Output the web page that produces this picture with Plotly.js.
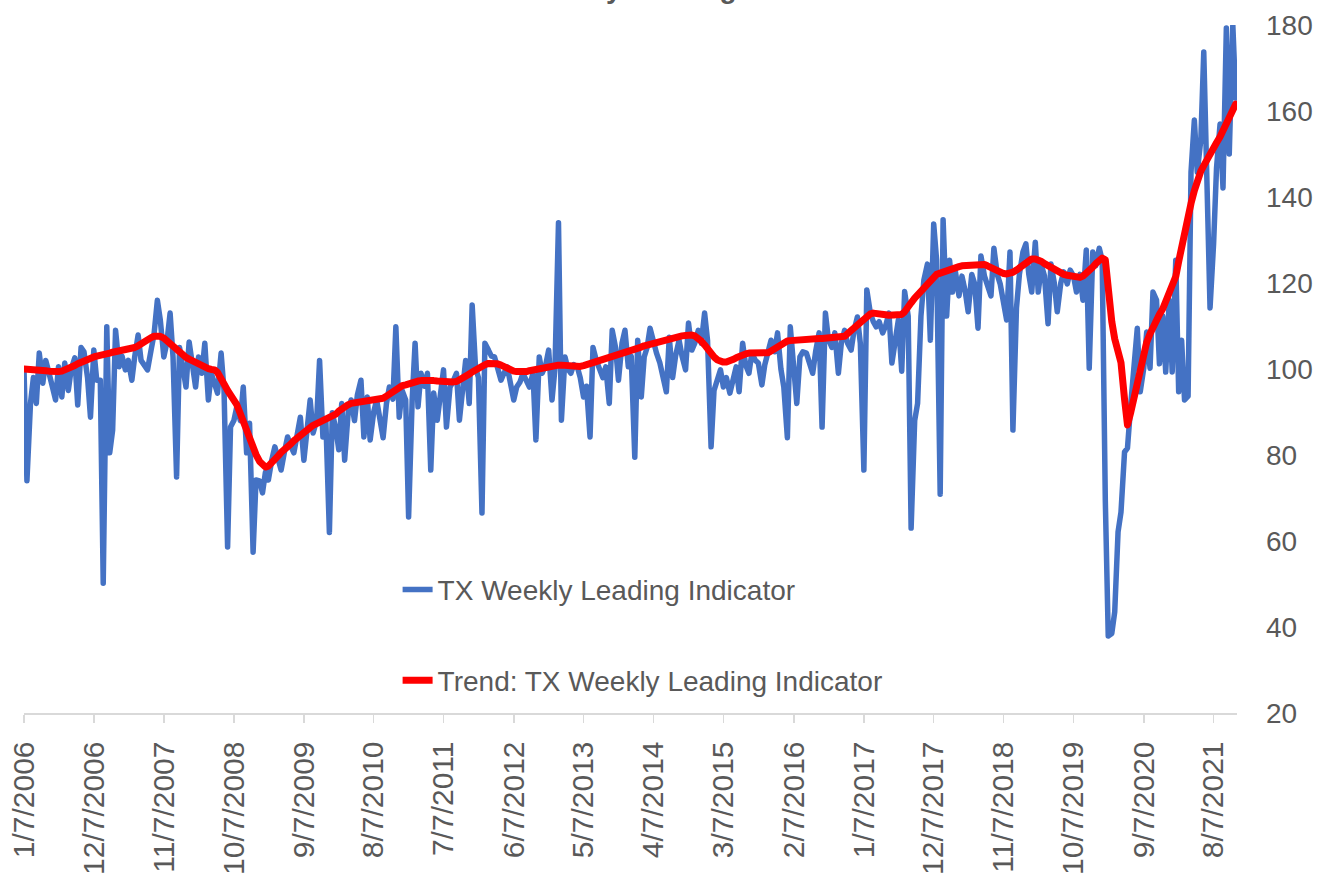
<!DOCTYPE html>
<html>
<head>
<meta charset="utf-8">
<script src="https://cdn.plot.ly/plotly-3.0.1.min.js"></script>
<style>
  html, body { margin: 0; padding: 0; background: #ffffff; }
  #chart { width: 1336px; height: 876px; }
  .scatterlayer path.js-line { stroke-linejoin: round; stroke-linecap: round; }
</style>
</head>
<body>
<div id="chart"></div>
<script>
// ---- Data (semi-monthly readings, 7th and 21st of each month) ----
const seriesNames = ['TX Weekly Leading Indicator', 'Trend: TX Weekly Leading Indicator'];

const blue2006 = [100, 74, 92, 98, 92, 103.7, 96.7, 102, 99, 95.8, 92.8, 100.5, 93.5, 101.4, 95, 100, 102.6, 91.6, 105, 104, 98, 88.8, 104.4, 97.4];
const blue2007 = [97.4, 50.2, 109.8, 80.5, 85.8, 109, 100.5, 103, 99.8, 102, 97.4, 103, 107.9, 102, 100.5, 99.8, 104.4, 108, 116, 111.4, 102.8, 106, 113, 102.8];
const blue2008 = [74.9, 105, 100, 95.8, 106.3, 101, 95.8, 102.8, 99, 106, 92.8, 99, 96, 94.4, 103.7, 95, 58.6, 86.5, 88, 91.2, 88, 95.8, 80.5, 87.4];
const blue2009 = [57.4, 74.2, 74, 71.2, 76, 74.2, 79, 81.9, 79, 76.5, 81, 84.2, 82, 80.5, 85, 88.8, 78.8, 86, 92.8, 85.1, 88, 102, 84.2, 88];
const blue2010 = [62, 89.8, 86, 81.2, 92, 78.8, 90, 92.8, 88, 94, 97.4, 84.2, 93.5, 83.5, 90, 92.8, 88, 84, 92, 95.8, 93, 109.8, 88.8, 95];
const blue2011 = [92.8, 65.6, 92.8, 106, 91.2, 99, 96, 99, 76.5, 94.4, 88.1, 95, 99.8, 86.5, 95.8, 97, 99, 88.1, 97, 102, 92, 114.9, 100.5, 98];
const blue2012 = [66.5, 106, 104.4, 103, 102.8, 100, 97.4, 99, 100.5, 97, 92.8, 95.8, 97, 99, 97, 95.8, 99, 83.5, 102.8, 99, 101, 104.4, 92.8, 100];
const blue2013 = [134, 88.1, 102.8, 100, 99, 101, 100.5, 98, 93.5, 96, 84.2, 105, 102, 100.5, 98, 100.5, 92, 109, 105, 97.4, 106, 109, 100.5, 103];
const blue2014 = [79.5, 106.7, 93.5, 102.8, 105, 109.5, 106, 103.7, 101.4, 98, 94.7, 107.4, 98, 103, 106.7, 103, 99.8, 110.7, 104.4, 106, 109, 106, 113, 106.7];
const blue2015 = [81.9, 95, 98, 99.8, 95.8, 98, 94.4, 98, 100.5, 94.7, 106, 101, 99, 103.7, 102, 101.4, 96.3, 101, 104, 106.7, 104, 108.4, 100, 95.8];
const blue2016 = [84, 109.8, 100, 92, 102.8, 104, 103.7, 101, 99, 104, 108.4, 86.5, 113, 107, 105, 108.4, 99, 106, 109, 106, 104.4, 109, 112.1, 106];
const blue2017 = [76.5, 118.4, 113, 111, 109.8, 111, 108.4, 110, 113, 101.4, 108, 111.4, 99.5, 118, 112.3, 63, 88, 92, 112.3, 120.7, 124.4, 106.7, 133.7, 125.3];
const blue2018 = [70.9, 134.7, 112.3, 125.3, 117.9, 122.6, 117, 121.6, 118, 113.3, 122, 119.8, 109.5, 126.3, 121.6, 119, 117, 128.1, 122, 119.8, 116, 111.4, 127.2, 85.8];
const blue2019 = [114.2, 122, 127.2, 129.1, 122, 117.9, 129.5, 117.9, 124, 121.6, 110.5, 124.4, 120, 113.3, 120, 122.6, 119.8, 123, 121.6, 117.9, 122, 116, 127.7, 100.2];
const blue2020 = [127.2, 124, 128.1, 125.3, 69.5, 37.9, 38.5, 43.5, 62.1, 66.7, 80.7, 81.6, 91.9, 101.2, 109.5, 94.7, 100.2, 108.6, 100.2, 117.9, 116, 101.2, 112.3, 99.3];
const blue2021 = [116, 99.3, 125.3, 94.7, 106.7, 92.8, 93.7, 145.8, 157.9, 145.8, 153.3, 173.7, 144, 114.2, 129.1, 146.7, 157, 142.1, 179.3, 150, 180, 163];

const trend2006 = [100, 100, 100, 100, 99.9, 99.8, 99.7, 99.6, 99.5, 99.4, 99.4, 99.4, 99.5, 99.7, 100, 100.4, 100.8, 101.2, 101.6, 102, 102.3, 102.6, 102.8, 103];
const trend2007 = [103.1, 103.3, 103.5, 103.7, 103.9, 104, 104.1, 104.2, 104.3, 104.5, 104.7, 105, 105.4, 105.9, 106.4, 106.9, 107.3, 107.6, 107.7, 107.6, 107.2, 106.6, 105.8, 105];
const trend2008 = [104.2, 103.6, 103.1, 102.7, 102.3, 101.9, 101.5, 101.1, 100.7, 100.4, 100.1, 99.9, 99.8, 99.2, 98, 96.5, 95, 94, 93.2, 91.7, 89.6, 87.6, 85.6, 83.6];
const trend2009 = [81.7, 80.1, 78.5, 77.6, 77.2, 77.4, 78.1, 79, 79.8, 80.6, 81.2, 82, 82.6, 83.3, 84, 84.8, 85.5, 86, 86.5, 86.9, 87.3, 87.6, 87.9, 88.2];
const trend2010 = [88.5, 89, 89.5, 90.2, 90.8, 91.3, 91.7, 92, 92.1, 92.2, 92.3, 92.4, 92.5, 92.6, 92.7, 92.7, 92.8, 93.2, 93.7, 94.2, 94.8, 95.3, 95.8, 96.1];
const trend2011 = [96.3, 96.6, 96.8, 97, 97.2, 97.3, 97.4, 97.4, 97.4, 97.3, 97.2, 97.1, 97, 97, 97, 97, 97.1, 97.4, 97.8, 98.3, 98.8, 99.3, 99.8, 100.3];
const trend2012 = [100.7, 101, 101.3, 101.4, 101.4, 101.2, 100.9, 100.5, 100.1, 99.8, 99.5, 99.4, 99.3, 99.3, 99.4, 99.6, 99.8, 100, 100.2, 100.4, 100.6, 100.7, 100.8, 100.9];
const trend2013 = [100.9, 100.9, 100.8, 100.7, 100.6, 100.5, 100.5, 100.6, 100.8, 101, 101.3, 101.6, 101.9, 102.2, 102.5, 102.7, 102.9, 103, 103.1, 103.2, 103.4, 103.6, 103.9, 104.2];
const trend2014 = [104.5, 104.8, 105.1, 105.4, 105.6, 105.8, 106, 106.2, 106.4, 106.6, 106.8, 107, 107.2, 107.4, 107.6, 107.7, 107.8, 107.9, 107.9, 107.7, 107.2, 106.5, 105.6, 104.6];
const trend2015 = [103.6, 102.8, 102.1, 101.7, 101.6, 101.6, 101.8, 102.2, 102.6, 103, 103.3, 103.5, 103.7, 103.7, 103.7, 103.7, 103.7, 103.7, 103.8, 104.2, 104.7, 105.3, 105.8, 106.2];
const trend2016 = [106.5, 106.6, 106.7, 106.8, 106.8, 106.9, 106.9, 107, 107, 107, 107.1, 107.1, 107.2, 107.2, 107.3, 107.3, 107.3, 107.4, 107.6, 108.2, 108.9, 109.6, 110.3, 111];
const trend2017 = [111.7, 112.3, 112.8, 113, 113, 112.9, 112.7, 112.6, 112.5, 112.5, 112.5, 112.5, 112.7, 113.3, 114.2, 115.4, 116.5, 117.3, 118, 118.9, 119.8, 120.7, 121.5, 122];
const trend2018 = [122.3, 122.6, 122.9, 123.2, 123.4, 123.6, 123.8, 124, 124.1, 124.2, 124.3, 124.4, 124.4, 124.4, 124.3, 124, 123.6, 123.1, 122.7, 122.4, 122.2, 122.1, 122.2, 122.5];
const trend2019 = [123, 123.6, 124.3, 124.9, 125.4, 125.6, 125.6, 125.4, 125, 124.5, 124, 123.5, 123.1, 122.7, 122.3, 122, 121.8, 121.6, 121.4, 121.2, 121.3, 121.6, 122.2, 123];
const trend2020 = [123.7, 124.5, 125.3, 125.8, 125.4, 118, 111, 107, 104.5, 101.5, 93, 87, 90, 93.3, 96.5, 99.8, 103.3, 106.2, 108.2, 109.8, 111.2, 112.7, 114, 115.5];
const trend2021 = [117.5, 119.3, 121.5, 125, 128.5, 132, 135.5, 138.5, 141.5, 144.3, 146, 147.3, 148.5, 149.8, 151.2, 152.6, 154, 155.6, 157, 158.5, 160, 161.6];

const tickDates = ['2006-01-07', '2006-12-07', '2007-11-07', '2008-10-07', '2009-09-07', '2010-08-07',
  '2011-07-07', '2012-06-07', '2013-05-07', '2014-04-07', '2015-03-07', '2016-02-07', '2017-01-07',
  '2017-12-07', '2018-11-07', '2019-10-07', '2020-09-07', '2021-08-07'];
const tickLabels = ['1/7/2006', '12/7/2006', '11/7/2007', '10/7/2008', '9/7/2009', '8/7/2010',
  '7/7/2011', '6/7/2012', '5/7/2013', '4/7/2014', '3/7/2015', '2/7/2016', '1/7/2017',
  '12/7/2017', '11/7/2018', '10/7/2019', '9/7/2020', '8/7/2021'];
const yTicks = [20, 40, 60, 80, 100, 120, 140, 160, 180];
const titleText = 'TX Weekly Leading Indicator';

// ---- Build series ----
const blueValues = [].concat(blue2006, blue2007, blue2008, blue2009, blue2010, blue2011, blue2012, blue2013,
  blue2014, blue2015, blue2016, blue2017, blue2018, blue2019, blue2020, blue2021);
const trendValues = [].concat(trend2006, trend2007, trend2008, trend2009, trend2010, trend2011, trend2012, trend2013,
  trend2014, trend2015, trend2016, trend2017, trend2018, trend2019, trend2020, trend2021);

function halfMonthDates(n) {
  const out = [];
  for (let y = 2006; out.length < n; y++) {
    for (let m = 1; m <= 12 && out.length < n; m++) {
      for (const d of ['07', '21']) {
        if (out.length < n) out.push(y + '-' + String(m).padStart(2, '0') + '-' + d);
      }
    }
  }
  return out;
}
const dates = halfMonthDates(blueValues.length);

const gray = '#595959';
const fontFam = 'Liberation Sans, Arial, sans-serif';

const traces = [
  {
    type: 'scatter', mode: 'lines', name: seriesNames[0],
    x: dates, y: blueValues,
    line: { color: '#4472C4', width: 5.5 },
    legend: 'legend', hoverinfo: 'skip'
  },
  {
    type: 'scatter', mode: 'lines', name: seriesNames[1],
    x: dates, y: trendValues,
    line: { color: '#FF0000', width: 7 },
    legend: 'legend2', hoverinfo: 'skip'
  }
];

const layout = {
  width: 1336, height: 876,
  margin: { l: 24, r: 99, t: 25, b: 163, pad: 0 },
  paper_bgcolor: '#ffffff', plot_bgcolor: '#ffffff',
  showlegend: true,
  font: { family: fontFam, color: gray },
  xaxis: {
    type: 'date',
    range: ['2006-01-07', '2021-11-27'],
    tickmode: 'array', tickvals: tickDates, ticktext: tickLabels,
    tickangle: -90,
    ticks: 'outside', ticklen: 8, tickwidth: 1.5, tickcolor: '#D9D9D9',
    showline: true, linecolor: '#D9D9D9', linewidth: 1.5,
    showgrid: false, zeroline: false,
    tickfont: { family: fontFam, size: 30, color: gray },
    ticklabelstandoff: 7,
    fixedrange: true
  },
  yaxis: {
    side: 'right',
    range: [20, 180],
    tickmode: 'array', tickvals: yTicks, ticktext: yTicks.map(String),
    showgrid: false, zeroline: false, showline: false, ticks: '',
    tickfont: { family: fontFam, size: 28, color: gray },
    ticklabelstandoff: 28,
    fixedrange: true
  },
  legend: {
    x: 0.308, xanchor: 'left', y: 0.179, yanchor: 'middle',
    bgcolor: 'rgba(0,0,0,0)', borderwidth: 0,
    font: { family: fontFam, size: 28, color: gray }
  },
  legend2: {
    x: 0.308, xanchor: 'left', y: 0.047, yanchor: 'middle',
    bgcolor: 'rgba(0,0,0,0)', borderwidth: 0,
    font: { family: fontFam, size: 28, color: gray }
  },
  annotations: [{
    text: '<b>' + titleText + '</b>',
    xref: 'paper', yref: 'paper', x: 0.535, y: 1.053, xanchor: 'center', yanchor: 'middle',
    showarrow: false, font: { family: fontFam, size: 28, color: gray }
  }]
};

Plotly.newPlot('chart', traces, layout, { displayModeBar: false, staticPlot: true });
</script>
</body>
</html>
